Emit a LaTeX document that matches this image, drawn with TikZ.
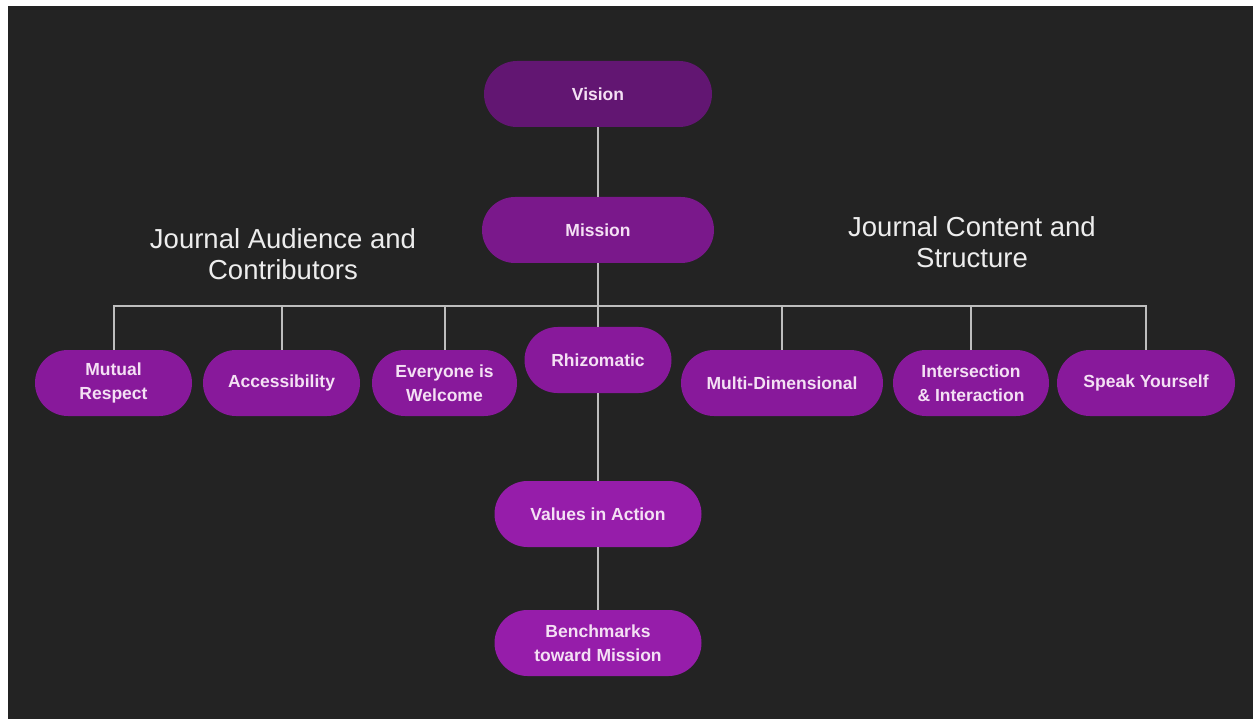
\documentclass[tikz,border=0pt]{standalone}
\usepackage{fontspec}
\setmainfont{Liberation Sans}
\definecolor{bgdark}{HTML}{232323}
\definecolor{linegray}{HTML}{BDBDBD}
\definecolor{txtpink}{HTML}{F4E0F4}
\definecolor{labelwhite}{HTML}{EDEDED}
\definecolor{pVision}{HTML}{621672}
\definecolor{pMission}{HTML}{7A188B}
\definecolor{pRow}{HTML}{88199B}
\definecolor{pLow}{HTML}{961DAA}
\tikzset{
  pill/.style={fill=pRow, draw=none, rounded corners=33pt, minimum height=66pt,
    inner sep=0pt, align=center, text=txtpink,
    font=\fontsize{17.5}{24}\selectfont\bfseries},
  conn/.style={draw=linegray, line width=2pt},
  biglabel/.style={text=labelwhite, align=center, font=\fontsize{27.5}{31}\selectfont}
}
\begin{document}
\begin{tikzpicture}[x=1pt,y=-1pt]
\useasboundingbox (0,0) rectangle (1253,719);
\fill[white] (0,0) rectangle (1253,719);
\fill[bgdark] (8,6) rectangle (1253,719);

\node[pill, fill=pVision, minimum width=228pt] (vision) at (598,94) {Vision};
\node[pill, fill=pMission, minimum width=232pt] (mission) at (598,230) {Mission};

\node[pill, minimum width=157pt] (mutual) at (113.5,383) {Mutual\\Respect};
\node[pill, minimum width=157pt] (access) at (281.5,383) {Accessibility};
\node[pill, minimum width=145pt] (everyone) at (444.5,383) {Everyone is\\Welcome};
\node[pill, minimum width=147pt] (rhizo) at (598,360) {Rhizomatic};
\node[pill, minimum width=202pt] (multi) at (782,383) {Multi-Dimensional};
\node[pill, minimum width=156pt] (inter) at (971,383) {Intersection\\\&{} Interaction};
\node[pill, minimum width=178pt] (speak) at (1146,383) {Speak Yourself};

\node[pill, fill=pLow, minimum width=207pt] (values) at (598,514) {Values in Action};
\node[pill, fill=pLow, minimum width=207pt] (bench) at (598,643) {Benchmarks\\toward Mission};

\node[biglabel] (lblA) at (283,254) {Journal Audience and\\Contributors};
\node[biglabel] (lblC) at (972,242) {Journal Content and\\Structure};

\coordinate (bar) at (598,306);

\draw[conn] (vision.south) -- (mission.north);
\draw[conn] (mission.south) -- (rhizo.north);
\draw[conn] (mutual.north) -- (mutual.north |- bar) -- (speak.north |- bar) -- (speak.north);
\draw[conn] (access.north) -- (access.north |- bar);
\draw[conn] (everyone.north) -- (everyone.north |- bar);
\draw[conn] (multi.north) -- (multi.north |- bar);
\draw[conn] (inter.north) -- (inter.north |- bar);
\draw[conn] (rhizo.south) -- (values.north);
\draw[conn] (values.south) -- (bench.north);
\end{tikzpicture}
\end{document}
